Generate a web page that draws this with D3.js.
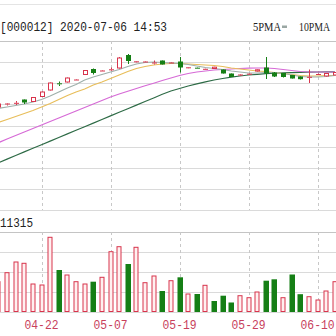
<!DOCTYPE html>
<html><head><meta charset="utf-8">
<script src="https://cdn.jsdelivr.net/npm/d3@7/dist/d3.min.js"></script>
<style>html,body{margin:0;padding:0;background:#fff;overflow:hidden}</style>
</head><body>
<svg id="c" width="336" height="336"></svg>
<script>
const dates = ["04-15","04-16","04-17","04-20","04-21","04-22","04-23","04-24","04-27","04-28","04-29","04-30","05-06","05-07","05-08","05-11","05-12","05-13","05-14","05-15","05-18","05-19","05-20","05-21","05-22","05-25","05-26","05-27","05-28","05-29","06-01","06-02","06-03","06-04","06-05","06-08","06-09","06-10","06-11","06-12"];
const open  = [5.03,5.055,5.07,5.10,5.085,5.135,5.20,5.267,5.28,5.30,5.355,5.405,5.39,5.402,5.42,5.545,5.482,5.48,5.47,5.49,5.47,5.48,5.42,5.423,5.407,5.415,5.40,5.36,5.345,5.355,5.39,5.42,5.37,5.365,5.345,5.33,5.328,5.355,5.34,5.35];
const close = [5.06,5.065,5.072,5.08,5.125,5.18,5.27,5.262,5.32,5.305,5.395,5.375,5.395,5.407,5.52,5.495,5.487,5.485,5.475,5.46,5.475,5.43,5.427,5.417,5.412,5.428,5.37,5.335,5.355,5.363,5.402,5.37,5.34,5.335,5.32,5.313,5.332,5.36,5.365,5.375];
const high  = [5.07,5.07,5.09,5.105,5.13,5.185,5.275,5.285,5.325,5.31,5.40,5.415,5.40,5.425,5.53,5.56,5.49,5.49,5.495,5.495,5.48,5.53,5.43,5.427,5.415,5.432,5.405,5.365,5.36,5.367,5.407,5.53,5.38,5.37,5.35,5.335,5.405,5.365,5.37,5.38];
const low   = [5.02,5.045,5.05,5.06,5.08,5.13,5.195,5.24,5.275,5.295,5.35,5.355,5.385,5.39,5.415,5.46,5.48,5.475,5.455,5.455,5.465,5.375,5.415,5.413,5.403,5.41,5.365,5.33,5.34,5.35,5.385,5.31,5.33,5.325,5.315,5.305,5.27,5.35,5.335,5.345];
const ma5  = [5.015,5.03,5.045,5.06,5.08,5.105,5.14,5.18,5.22,5.255,5.30,5.33,5.355,5.38,5.405,5.435,5.46,5.475,5.48,5.475,5.47,5.465,5.455,5.44,5.425,5.415,5.405,5.39,5.38,5.37,5.37,5.375,5.375,5.365,5.35,5.335,5.33,5.33,5.335,5.345];
const ma10 = [4.875,4.905,4.935,4.965,4.995,5.03,5.065,5.105,5.145,5.18,5.21,5.25,5.28,5.315,5.35,5.385,5.415,5.435,5.45,5.46,5.465,5.465,5.46,5.455,5.45,5.445,5.435,5.42,5.41,5.40,5.39,5.385,5.375,5.365,5.355,5.345,5.34,5.34,5.345,5.345];
const ma20 = [4.673,4.71,4.745,4.78,4.815,4.85,4.885,4.92,4.955,4.99,5.025,5.06,5.095,5.13,5.16,5.187,5.215,5.242,5.268,5.295,5.32,5.345,5.365,5.38,5.39,5.40,5.405,5.41,5.415,5.418,5.42,5.42,5.415,5.405,5.395,5.385,5.38,5.38,5.38,5.38];
const ma60 = [4.473,4.509,4.545,4.581,4.617,4.653,4.689,4.725,4.761,4.797,4.833,4.869,4.905,4.941,4.977,5.013,5.049,5.085,5.12,5.157,5.19,5.215,5.24,5.262,5.282,5.30,5.315,5.328,5.34,5.35,5.357,5.363,5.368,5.371,5.374,5.376,5.378,5.38,5.381,5.382];
const volume = [4286,5559,7072,6888,3960,3819,10566,5940,5233,4286,3960,4286,4908,8529,9236,6789,9151,4144,5092,2970,4427,4908,2546,2546,3776,1556,2305,1344,2305,2023,2829,4427,4625,2023,5304,2518,2164,1697,2970,4286];
const volUp = [1,1,1,1,1,1,1,0,1,1,1,0,1,1,1,0,1,1,1,0,1,0,1,0,1,0,0,0,1,1,1,0,0,1,0,0,1,1,1,1];
const tickLabels = ["04-22","05-07","05-19","05-29","06-10"];
const maxVolLabel = "11315";
const title = "[000012] 2020-07-06 14:53";
const legendNames = ["5PMA","10PMA"];

const RED = "#d8344c", RFILL = "#fff0f0", GREEN = "#157f15";
const svg = d3.select("#c");
const x = d3.scalePoint().domain(dates).range([-1.6, 334.8]);
const yP = d3.scaleLinear().domain([4.0, 5.69]).range([210, 41]);
const yV = d3.scaleLinear().domain([0, 11315]).range([312, 232]);

svg.append("line").attr("x1",0).attr("x2",336).attr("y1",4.5).attr("y2",4.5).attr("stroke","#e4e4e4");
svg.append("text").attr("x",0).attr("y",31).attr("font-family","Liberation Mono, DejaVu Sans Mono, monospace")
  .attr("font-size",12.5).attr("fill","#222").attr("textLength",167).attr("lengthAdjust","spacingAndGlyphs").text(title);
svg.append("text").attr("x",253).attr("y",31).attr("font-family","Liberation Serif, serif")
  .attr("font-size",12.5).attr("fill","#222").attr("textLength",28).attr("lengthAdjust","spacingAndGlyphs").text(legendNames[0]);
svg.append("rect").attr("x",282).attr("y",25.5).attr("width",5).attr("height",2.5).attr("fill","#9aa7a3");
svg.append("text").attr("x",299).attr("y",31).attr("font-family","Liberation Serif, serif")
  .attr("font-size",12).attr("fill","#222").attr("textLength",31).attr("lengthAdjust","spacingAndGlyphs").text(legendNames[1]);

const gMain = svg.append("g");
d3.range(9).forEach(k => {
  const yy = Math.round(41 + k*169/8) + 0.5;
  gMain.append("line").attr("x1",0).attr("x2",336).attr("y1",yy).attr("y2",yy)
    .attr("stroke", k===0 ? "#c4c4c4" : "#dadada");
});
d3.range(5).forEach(k => {
  const yy = Math.round(yV(11315*(4-k)/4)) + 0.5;
  gMain.append("line").attr("x1",0).attr("x2",336).attr("y1",yy).attr("y2",yy)
    .attr("stroke", k===0 ? "#c4c4c4" : "#dadada");
});
tickLabels.forEach(t => {
  const xx = Math.round(x(t)) + 0.5;
  [[41,210],[232,312]].forEach(([a,b]) => {
    gMain.append("line").attr("x1",xx).attr("x2",xx).attr("y1",a).attr("y2",b)
      .attr("stroke","#c8c8c8").attr("stroke-dasharray","3,3");
  });
  svg.append("text").attr("x",x(t)).attr("y",329).attr("text-anchor","middle")
    .attr("font-family","Liberation Mono, DejaVu Sans Mono, monospace").attr("font-size",12)
    .attr("fill","#c8405c").attr("textLength",34).attr("lengthAdjust","spacingAndGlyphs").text(t);
});
svg.append("text").attr("x",0).attr("y",227).attr("font-family","Liberation Mono, DejaVu Sans Mono, monospace")
  .attr("font-size",12.5).attr("fill","#222").attr("textLength",33).attr("lengthAdjust","spacingAndGlyphs").text(maxVolLabel);

const line = arr => d3.line().x((d,i)=>x(dates[i])).y(d=>yP(d))(arr);
[[ma60,"#2e6b46"],[ma20,"#d66ad6"],[ma10,"#e8be5a"],[ma5,"#9fb0ab"]].forEach(([a,c]) => {
  svg.append("path").attr("d", line(a)).attr("fill","none").attr("stroke",c).attr("stroke-width",1.2);
});

const bw = 5;
const cg = svg.append("g");
dates.forEach((d,i) => {
  const up = close[i] >= open[i];
  const col = up ? RED : GREEN;
  const cx = Math.round(x(d)) + 0.5;
  const yo = yP(open[i]), yc = yP(close[i]);
  const top = Math.min(yo,yc), h = Math.max(1, Math.abs(yo-yc));
  cg.append("line").attr("x1",cx).attr("x2",cx).attr("y1",yP(high[i])).attr("y2",top).attr("stroke",col);
  cg.append("line").attr("x1",cx).attr("x2",cx).attr("y1",top+h).attr("y2",yP(low[i])).attr("stroke",col);
  if (h <= 1.2) {
    cg.append("line").attr("x1",cx-2.5).attr("x2",cx+2.5).attr("y1",top+0.5).attr("y2",top+0.5).attr("stroke",col);
  } else if (up) {
    cg.append("rect").attr("x",cx-2).attr("y",top).attr("width",4).attr("height",h)
      .attr("fill","#fff").attr("stroke",col);
  } else {
    cg.append("rect").attr("x",cx-2.5).attr("y",top-0.5).attr("width",5).attr("height",h+1).attr("fill",col);
  }
});

const vg = svg.append("g");
dates.forEach((d,i) => {
  const cx = Math.round(x(d));
  const yt = yV(volume[i]);
  if (volUp[i]) {
    vg.append("rect").attr("x",cx-2.5+0.5).attr("y",yt).attr("width",bw-1).attr("height",312-yt-0.5)
      .attr("fill",RFILL).attr("stroke",RED);
  } else {
    vg.append("rect").attr("x",cx-2.5).attr("y",yt).attr("width",bw+0.5).attr("height",312-yt).attr("fill",GREEN);
  }
});
</script>
</body></html>
